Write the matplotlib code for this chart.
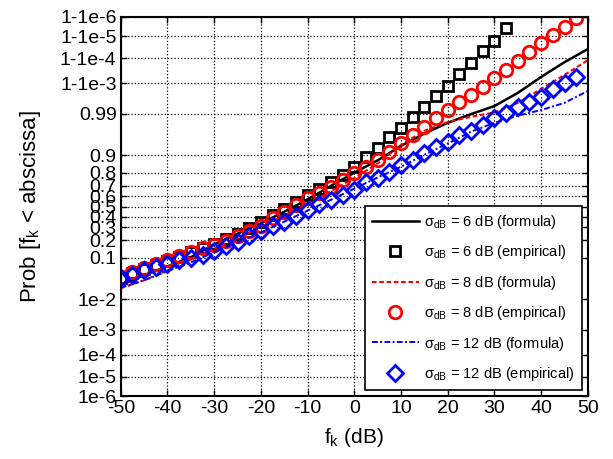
import numpy as np
import matplotlib
matplotlib.use("Agg")
import matplotlib.pyplot as plt
from statistics import NormalDist

plt.rcParams['font.family'] = ['Liberation Sans', 'DejaVu Sans']
plt.rcParams['mathtext.default'] = 'regular'
plt.rcParams['axes.unicode_minus'] = False

# x positions (dB)
x_emp6 = np.arange(-50, 33, 2.5)          # squares stop at 32.5 dB
x_emp = np.arange(-50, 48, 2.5)           # circles / diamonds up to 47.5 dB
x_form = np.arange(-50, 51, 5)

# empirical CDFs
emp6 = [0.0375, 0.0475, 0.0594, 0.0721, 0.0869, 0.104, 0.125, 0.149, 0.176, 0.209, 0.248, 0.295, 0.348,
        0.413, 0.48, 0.548, 0.614, 0.674, 0.729, 0.785, 0.839, 0.893, 0.9292, 0.9591, 0.9756, 0.9875,
        0.99379, 0.9972, 0.99874, 0.99955, 0.999841, 0.9999519, 0.9999834, 0.99999627]
emp8 = [0.0384, 0.0495, 0.0618, 0.0749, 0.0918, 0.1075, 0.1271, 0.1492, 0.166, 0.1949, 0.2296, 0.2676,
        0.3121, 0.3859, 0.4443, 0.516, 0.5832, 0.6331, 0.6879, 0.7454, 0.7995, 0.8389, 0.879, 0.9147,
        0.9441, 0.9633, 0.9767, 0.9868, 0.99224, 0.9956, 0.99744, 0.99865, 0.99936, 0.999687, 0.999869,
        0.999948, 0.9999793, 0.9999915, 0.9999966, 0.99999888]
emp12 = [0.0367, 0.0427, 0.0559, 0.0643, 0.0749, 0.0901, 0.0985, 0.111, 0.131, 0.161, 0.187, 0.23, 0.271,
         0.312, 0.348, 0.405, 0.464, 0.524, 0.564, 0.614, 0.659, 0.729, 0.761, 0.808, 0.851, 0.879, 0.9099,
         0.9319, 0.9474, 0.9633, 0.9706, 0.9793, 0.9868, 0.99061, 0.99379, 0.9956, 0.99702, 0.99841,
         0.999032, 0.999423]

# formula curves
form6 = [0.0244, 0.0427, 0.0668, 0.102, 0.171, 0.248, 0.337, 0.448, 0.571, 0.698, 0.802, 0.877, 0.9357,
         0.9664, 0.9821, 0.9898, 0.99413, 0.99781, 0.999423, 0.999853, 0.9999609]
form8 = [0.0202, 0.0322, 0.0548, 0.0918, 0.145, 0.215, 0.305, 0.413, 0.532, 0.648, 0.764, 0.86, 0.9394,
         0.9713, 0.983, 0.9878, 0.99086, 0.99534, 0.99841, 0.999517, 0.999879]
form12 = [0.0212, 0.0322, 0.0526, 0.0808, 0.125, 0.184, 0.258, 0.352, 0.46, 0.567, 0.674, 0.767, 0.841,
          0.9032, 0.9429, 0.9699, 0.9821, 0.9887, 0.99224, 0.99534, 0.99813]

ytick_vals = [1e-6, 1e-5, 1e-4, 1e-3, 1e-2, 0.1, 0.2, 0.3, 0.4, 0.5, 0.6, 0.7, 0.8, 0.9, 0.99,
              1 - 1e-3, 1 - 1e-4, 1 - 1e-5, 1 - 1e-6]
ytick_labels = ['1e-6', '1e-5', '1e-4', '1e-3', '1e-2', '0.1', '0.2', '0.3', '0.4', '0.5', '0.6', '0.7',
                '0.8', '0.9', '0.99', '1-1e-3', '1-1e-4', '1-1e-5', '1-1e-6']

# normal probability scale
_nd = NormalDist()
_inv = np.vectorize(lambda p: _nd.inv_cdf(p) if 0 < p < 1 else (np.nan if p != p else (-40.0 if p <= 0 else 40.0)),
                    otypes=[float])
_cdf = np.vectorize(lambda z: _nd.cdf(z) if z == z else np.nan, otypes=[float])


def forward(p):
    return _inv(np.asarray(p, dtype=float))


def inverse(z):
    return _cdf(np.asarray(z, dtype=float))


fig = plt.figure(figsize=(6.13, 4.59), dpi=100)
ax = fig.add_axes([0.197, 0.137, 0.762, 0.826])
ax.set_yscale('function', functions=(forward, inverse))

lbl = r'$\sigma_{dB}$'
ax.plot(x_form, form6, '-', color='black', lw=1.8, label=lbl + ' = 6 dB (formula)')
ax.plot(x_emp6, emp6, 's', mfc='none', mec='black', mew=2, ms=7.5, label=lbl + ' = 6 dB (empirical)')
ax.plot(x_form, form8, '--', color='red', lw=1.5, dashes=(2.2, 1.3), label=lbl + ' = 8 dB (formula)')
ax.plot(x_emp, emp8, 'o', mfc='none', mec='red', mew=2, ms=9, label=lbl + ' = 8 dB (empirical)')
ax.plot(x_form, form12, '-.', color='blue', lw=1.4, dashes=(3, 1.2, 1, 1.2),
        label=lbl + ' = 12 dB (formula)')
ax.plot(x_emp, emp12, 'D', mfc='none', mec='blue', mew=2, ms=8, label=lbl + ' = 12 dB (empirical)')

ax.set_xlim(-50, 50)
ax.set_ylim(1e-6, 1 - 1e-6)
ax.set_xticks(np.arange(-50, 51, 10))
ax.set_yticks(ytick_vals)
ax.set_yticklabels(ytick_labels)
ax.minorticks_off()
ax.tick_params(direction='in', top=True, right=True, labelsize=14, length=4, width=1, pad=3)
ax.grid(True, color='black', linestyle=':', linewidth=0.9)
for s in ax.spines.values():
    s.set_linewidth(1.5)

ax.set_xlabel(r'$f_k$ (dB)', fontsize=15, labelpad=6)
ax.set_ylabel(r'Prob [$f_k$ < abscissa]', fontsize=16, labelpad=12)

leg = ax.legend(loc='lower right', fontsize=10.5, handlelength=3.2, handletextpad=0.4, fancybox=False,
                framealpha=1, edgecolor='black', borderaxespad=0.4, labelspacing=0.85, borderpad=0.5)
leg.get_frame().set_linewidth(1.2)

fig.savefig('out.png', dpi=100)
